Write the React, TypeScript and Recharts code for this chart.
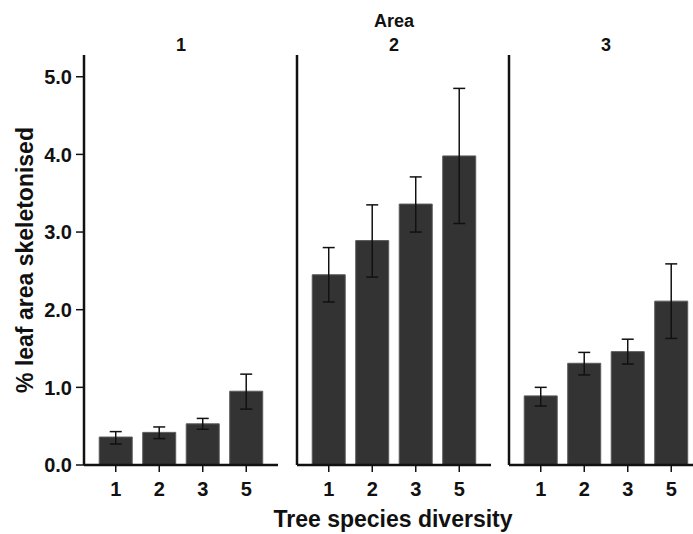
import { BarChart, Bar, XAxis, YAxis, ErrorBar } from "recharts";

// Tree species diversity levels (x categories, shared by every panel)
const DIVERSITY = ["1", "2", "3", "5"];
const AREAS = ["1", "2", "3"];

// Mean % leaf area skeletonised with lower / upper error limits, per area
const AREA_1_MEAN = [0.36, 0.42, 0.53, 0.95];
const AREA_1_LOW = [0.27, 0.34, 0.46, 0.72];
const AREA_1_HIGH = [0.43, 0.49, 0.6, 1.17];

const AREA_2_MEAN = [2.45, 2.89, 3.36, 3.98];
const AREA_2_LOW = [2.1, 2.42, 3.0, 3.11];
const AREA_2_HIGH = [2.8, 3.35, 3.71, 4.85];

const AREA_3_MEAN = [0.89, 1.31, 1.46, 2.11];
const AREA_3_LOW = [0.76, 1.16, 1.3, 1.63];
const AREA_3_HIGH = [1.0, 1.45, 1.62, 2.59];

const Y_TICKS = [0, 1, 2, 3, 4, 5];
const Y_MAX = 5.28;

const FONT = "'Liberation Sans', Arial, Helvetica, sans-serif";
const INK = "#111111";
const TICK_FONT = 20;

// plot area geometry
const PLOT_TOP = 55;
const PLOT_BOTTOM = 465;
const HEIGHT = 534;
const Y_AXIS_W = 84;
const PLOT_W = 194;
const PLOT_LEFTS = [84, 297, 509];

function buildRows(mean: number[], low: number[], high: number[]) {
  return DIVERSITY.map((d, i) => ({
    diversity: d,
    mean: mean[i],
    err: [+(mean[i] - low[i]).toFixed(3), +(high[i] - mean[i]).toFixed(3)],
  }));
}

const PANELS = [
  buildRows(AREA_1_MEAN, AREA_1_LOW, AREA_1_HIGH),
  buildRows(AREA_2_MEAN, AREA_2_LOW, AREA_2_HIGH),
  buildRows(AREA_3_MEAN, AREA_3_LOW, AREA_3_HIGH),
];

function XTick({ x, y, payload }: any) {
  return (
    <text x={x} y={y} dy="0.71em" textAnchor="middle" fill={INK} fontSize={TICK_FONT} fontWeight={700} fontFamily={FONT}>
      {payload.value}
    </text>
  );
}

function YTick({ x, y, payload }: any) {
  return (
    <text x={x} y={y} dy="0.36em" textAnchor="end" fill={INK} fontSize={TICK_FONT} fontWeight={700} fontFamily={FONT}>
      {Number(payload.value).toFixed(1)}
    </text>
  );
}

function Panel({ rows, index }: { rows: ReturnType<typeof buildRows>; index: number }) {
  const first = index === 0;
  return (
    <div style={{ position: "absolute", left: PLOT_LEFTS[index] - Y_AXIS_W, top: 0 }}>
      <BarChart
        width={Y_AXIS_W + PLOT_W + 2}
        height={HEIGHT}
        data={rows}
        margin={{ top: PLOT_TOP, right: 2, left: 0, bottom: 0 }}
        barCategoryGap="12%"
      >
        <XAxis
          dataKey="diversity"
          height={HEIGHT - PLOT_BOTTOM}
          padding={{ left: 10, right: 10 }}
          axisLine={{ stroke: INK, strokeWidth: 2.5 }}
          tickLine={{ stroke: INK, strokeWidth: 1.5 }}
          tickSize={7}
          tickMargin={10}
          tick={<XTick />}
        />
        <YAxis
          width={Y_AXIS_W}
          domain={[0, Y_MAX]}
          ticks={Y_TICKS}
          allowDataOverflow
          interval={0}
          axisLine={{ stroke: INK, strokeWidth: 2.5 }}
          tickLine={first ? { stroke: INK, strokeWidth: 1.5 } : false}
          tickSize={8}
          tickMargin={4}
          tick={first ? <YTick /> : false}
        />
        <Bar dataKey="mean" fill="#333333" stroke="#5a5a5a" strokeWidth={1} isAnimationActive={false}>
          <ErrorBar dataKey="err" width={6} stroke={INK} strokeWidth={1.5} direction="y" />
        </Bar>
      </BarChart>
    </div>
  );
}

export default function App() {
  const centers = PLOT_LEFTS.map((l) => l + PLOT_W / 2);
  return (
    <div
      style={{
        position: "absolute",
        left: 0,
        top: 0,
        width: 693,
        height: HEIGHT,
        overflow: "hidden",
        background: "#fff",
        fontFamily: FONT,
      }}
    >
      {PANELS.map((rows, i) => (
        <Panel key={i} rows={rows} index={i} />
      ))}
      <svg
        width={693}
        height={HEIGHT}
        style={{ position: "absolute", left: 0, top: 0, pointerEvents: "none" }}
      >
        <text x={centers[1]} y={27} textAnchor="middle" fontSize={18} fontWeight={700} fill={INK}>
          Area
        </text>
        {AREAS.map((a, i) => (
          <text key={a} x={centers[i]} y={51} textAnchor="middle" fontSize={18} fontWeight={700} fill={INK}>
            {a}
          </text>
        ))}
        <text x={393} y={527} textAnchor="middle" fontSize={23} fontWeight={700} fill={INK}>
          Tree species diversity
        </text>
        <text
          x={0}
          y={0}
          transform={`translate(33, ${(PLOT_TOP + PLOT_BOTTOM) / 2}) rotate(-90)`}
          textAnchor="middle"
          fontSize={23}
          fontWeight={700}
          fill={INK}
        >
          % leaf area skeletonised
        </text>
      </svg>
    </div>
  );
}
